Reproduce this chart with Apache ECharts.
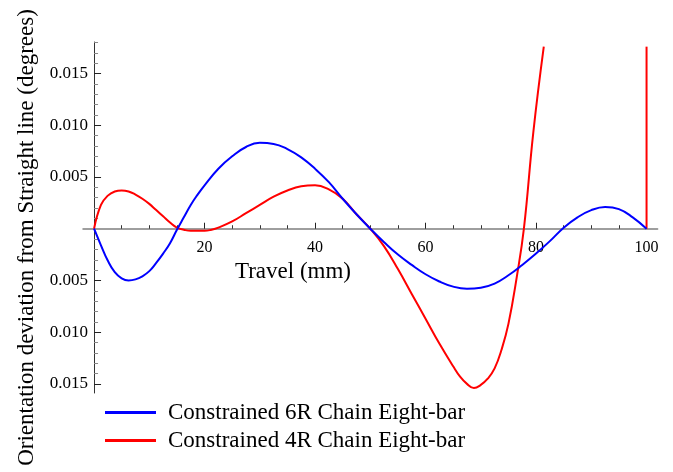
<!DOCTYPE html>
<html><head><meta charset="utf-8">
<script src="https://cdn.jsdelivr.net/npm/echarts@6/dist/echarts.min.js"></script>
<style>html,body{margin:0;padding:0;background:#fff}#c{width:673px;height:472px}</style>
</head><body><div id="c"></div>
<script>
// ---- data ----
const seriesNames = ['Constrained 6R Chain Eight-bar', 'Constrained 4R Chain Eight-bar'];

const xBlue = [0, 1.25, 2.5, 3.75, 5, 6.25, 7.5, 8.75, 10, 11.25, 12.5, 13.75, 15, 16.25, 17.5, 18.75, 20, 22.5, 25, 27.5, 30, 32.5, 35, 37.5, 40, 42.5, 45, 47.5, 50, 52.5, 55, 57.5, 60, 62.5, 65, 67.5, 70, 72.5, 75, 77.5, 80, 82.5, 85, 87.5, 90, 92.5, 95, 97.5, 100];
const yBlue = [0, -0.0016, -0.0031, -0.0042, -0.0048, -0.0050, -0.0049, -0.0046, -0.0041, -0.0033, -0.0024, -0.0014, -0.0001, 0.0011, 0.0023, 0.0033, 0.0042, 0.0058, 0.0070, 0.0079, 0.0083, 0.0082, 0.0077, 0.0069, 0.0058, 0.0045, 0.0029, 0.0014, 0, -0.0013, -0.0025, -0.0035, -0.0044, -0.0051, -0.0056, -0.0058, -0.0057, -0.0053, -0.0045, -0.0035, -0.0024, -0.0012, 0.0001, 0.0011, 0.0018, 0.0021, 0.0019, 0.0011, 0];

const xRed = [0, 1.25, 2.5, 3.75, 5, 6.25, 7.5, 8.75, 10, 11.25, 12.5, 13.75, 15, 16.25, 17.5, 18.75, 20, 21.25, 22.5, 25, 27.5, 30, 32.5, 35, 37.5, 40, 42.5, 45, 47.5, 50, 52.5, 55, 57.5, 60, 62.5, 65, 66.25, 67.5, 68.75, 70, 71.25, 72.5, 73.75, 75, 76.5, 77.8, 79.5, 81.4];
const yRed = [0, 0.0023, 0.0032, 0.0036, 0.0037, 0.0036, 0.0033, 0.0029, 0.0024, 0.0018, 0.0012, 0.0006, 0.0001, -0.0001, -0.0002, -0.0002, -0.0002, -0.0001, 0.0001, 0.0007, 0.0015, 0.0023, 0.0031, 0.0037, 0.0041, 0.0042, 0.0038, 0.0029, 0.0014, 0, -0.0017, -0.0039, -0.0063, -0.0087, -0.0111, -0.0133, -0.0143, -0.0150, -0.0154, -0.0151, -0.0145, -0.0135, -0.0117, -0.0092, -0.0047, 0, 0.0093, 0.0176];
// red branch at the right edge (x = 100)
const xRedEdge = [100, 100];
const yRedEdge = [0, 0.0176];

const xTickLabels = [20, 40, 60, 80, 100];
const yTickLabels = [-0.015, -0.01, -0.005, 0.005, 0.01, 0.015];
const xTitle = 'Travel (mm)';
const yTitle = 'Orientation deviation from Straight line (degrees)';

// ---- chart ----
const FONT = 'Liberation Serif';
const xMajor = [0, 20, 40, 60, 80, 100];
const xMinor = []; for (let v = 0; v <= 100; v += 5) if (v % 20) xMinor.push(v);
const yMajor = [-0.015, -0.01, -0.005, 0.005, 0.01, 0.015];
const yMinor = []; for (let i = -15; i <= 18; i++) if (i % 5) yMinor.push(i / 1000);

const pairs = (xs, ys) => xs.map((x, i) => [x, ys[i]]);
const X_MIN = -2, X_MAX = 102, Y_MIN = -0.01588, Y_MAX = 0.01805;

const chart = echarts.init(document.getElementById('c'), null, {renderer: 'canvas'});
chart.setOption({
  animation: false,
  backgroundColor: '#fff',
  grid: {left: 83, top: 42, width: 574.6, height: 351},
  xAxis: [{
    type: 'value', min: X_MIN, max: X_MAX,
    axisLine: {onZero: true, onZeroAxisIndex: 0, lineStyle: {color: '#7f7f7f', width: 1.5}},
    axisTick: {show: true, inside: true, length: 6, customValues: xMajor, lineStyle: {color: '#222', width: 1}},
    axisLabel: {customValues: xTickLabels, margin: -153, color: '#000', fontFamily: FONT, fontSize: 16},
    splitLine: {show: false}
  }, {
    type: 'value', min: X_MIN, max: X_MAX, position: 'bottom',
    axisLine: {show: false, onZero: true, onZeroAxisIndex: 0},
    axisTick: {show: true, inside: true, length: 3.5, customValues: xMinor, lineStyle: {color: '#333', width: 1}},
    axisLabel: {show: false},
    splitLine: {show: false}
  }],
  yAxis: [{
    type: 'value', min: Y_MIN, max: Y_MAX,
    axisLine: {onZero: true, onZeroAxisIndex: 0, lineStyle: {color: '#333', width: 1}},
    axisTick: {show: true, inside: true, length: 7, customValues: yMajor, lineStyle: {color: '#222', width: 1}},
    axisLabel: {customValues: yTickLabels, margin: -5, color: '#000', fontFamily: FONT, fontSize: 17,
      formatter: v => Math.abs(v).toFixed(3)},
    splitLine: {show: false}
  }, {
    type: 'value', min: Y_MIN, max: Y_MAX, position: 'left',
    axisLine: {show: false, onZero: true, onZeroAxisIndex: 0},
    axisTick: {show: true, inside: true, length: 4, customValues: yMinor, lineStyle: {color: '#888', width: 1}},
    axisLabel: {show: false},
    splitLine: {show: false}
  }],
  legend: {
    data: seriesNames,
    orient: 'vertical', left: 100, top: 396,
    icon: 'rect', itemWidth: 51, itemHeight: 3, itemGap: 5,
    textStyle: {fontFamily: FONT, fontSize: 23, color: '#000', lineHeight: 23, padding: [0, 0, 0, 7]}
  },
  graphic: [
    {type: 'text', x: 293, y: 272, style: {text: xTitle, font: '23px ' + FONT, fill: '#000', textAlign: 'center', textVerticalAlign: 'middle'}},
    {type: 'text', x: 27, y: 237.5, rotation: Math.PI / 2, style: {text: yTitle, font: '23px ' + FONT, fill: '#000', textAlign: 'center', textVerticalAlign: 'middle'}}
  ],
  series: [{
    name: seriesNames[1], type: 'line', data: pairs(xRed, yRed), showSymbol: false, smooth: 0.45,
    lineStyle: {color: '#ff0000', width: 2}, itemStyle: {color: '#ff0000'}
  }, {
    name: seriesNames[1], type: 'line', data: pairs(xRedEdge, yRedEdge), showSymbol: false,
    lineStyle: {color: '#ff0000', width: 2}, itemStyle: {color: '#ff0000'}
  }, {
    name: seriesNames[0], type: 'line', data: pairs(xBlue, yBlue), showSymbol: false, smooth: 0.45,
    lineStyle: {color: '#0000ff', width: 2}, itemStyle: {color: '#0000ff'}
  }]
});
</script></body></html>
